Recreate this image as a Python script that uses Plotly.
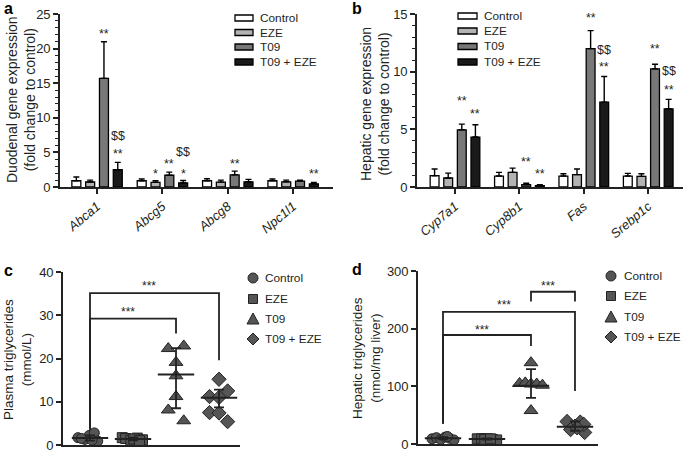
import plotly.graph_objects as go

W, H = 685, 452
FONT = "Liberation Sans, Arial, sans-serif"
TXT = "#231f20"

# ---------------- data ----------------
groups = ["Control", "EZE", "T09", "T09 + EZE"]

genes_a = ["Abca1", "Abcg5", "Abcg8", "Npc1l1"]
a_control = [0.9, 0.9, 0.9, 0.9]
a_eze = [0.72, 0.67, 0.70, 0.75]
a_t09 = [15.7, 1.7, 1.75, 0.85]
a_t09eze = [2.5, 0.6, 0.75, 0.45]
a_control_err = [0.55, 0.25, 0.30, 0.25]
a_eze_err = [0.28, 0.23, 0.30, 0.25]
a_t09_err = [5.3, 0.45, 0.55, 0.15]
a_t09eze_err = [1.06, 0.35, 0.35, 0.20]

genes_b = ["Cyp7a1", "Cyp8b1", "Fas", "Srebp1c"]
b_control = [0.98, 0.95, 0.95, 0.95]
b_eze = [0.78, 1.27, 1.07, 0.92]
b_t09 = [4.96, 0.20, 12.0, 10.24]
b_t09eze = [4.33, 0.12, 7.36, 6.78]
b_control_err = [0.58, 0.32, 0.20, 0.23]
b_eze_err = [0.42, 0.37, 0.49, 0.23]
b_t09_err = [0.49, 0.12, 1.56, 0.40]
b_t09eze_err = [1.07, 0.08, 2.22, 0.82]

# significance marks: (gene index, group index, text, level)
a_sig = [(0, 2, "**", 22.5), (0, 3, "$$", 7.3), (0, 3, "**", 5.2),
         (1, 1, "*", 2.35), (1, 2, "**", 3.7), (1, 3, "$$", 5.0), (1, 3, "*", 2.35),
         (2, 2, "**", 3.7), (3, 3, "**", 2.35)]
b_sig = [(0, 2, "**", 7.7), (0, 3, "**", 6.55), (1, 2, "**", 2.4), (1, 3, "**", 1.4),
         (2, 2, "**", 14.9), (2, 3, "$$", 11.9), (2, 3, "**", 10.7),
         (3, 2, "**", 12.2), (3, 3, "$$", 10.07), (3, 3, "**", 8.65)]

# panel c: plasma TG (mmol/L)
c_control = [1.7, 1.3, 2.2, 2.8, 0.9, 1.5, 1.1]
c_eze = [1.7, 1.5, 1.1, 1.6, 1.2, 1.4, 1.0]
c_t09 = [22.3, 22.9, 19.1, 16.0, 11.2, 8.1, 5.6]
c_t09eze = [15.2, 12.5, 11.2, 11.0, 7.5, 7.4, 5.4]
c_center = [1.6, 1.4, 16.3, 10.9]
c_up = [0.6, 0.3, 6.1, 1.9]
c_down = [0.6, 0.3, 7.8, 2.2]

# panel d: hepatic TG (nmol/mg liver)
d_control = [9, 11, 8, 12, 10, 7, 13]
d_eze = [9, 9, 9, 8, 7, 8, 9]
d_t09 = [141, 105, 106, 104, 104, 102, 58]
d_t09eze = [39, 38, 31, 25, 20, 34, 28]
d_center = [10, 8.5, 101, 30]
d_up = [2, 1, 29, 9]
d_down = [2, 1, 21, 7]

# comparisons: (group i, group j, bracket level, leg end i, leg end j, label level)
c_brackets = [(0, 2, 29.2, 3.5, 25.8, 31.5), (0, 3, 35.1, 3.5, 19.6, 37.4)]
d_brackets = [(0, 2, 189, 35, 170, 203), (0, 3, 229, 35, 92, 246), (2, 3, 264, 247, 247, 279)]

y_titles = ["Duodenal gene expression<br>(fold change to control)",
            "Hepatic gene expression<br>(fold change to control)",
            "Plasma triglycerides<br>(mmol/L)",
            "Hepatic triglycerides<br>(nmol/mg liver)"]

# ---------------- styles / layout helpers ----------------
bar_colors = ["#ffffff", "#b3b3b3", "#787878", "#1a1a1a"]
pt_symbols = ["circle", "square", "triangle-up", "diamond"]
pt_sizes = [10, 10, 12, 11]
# horizontal jitter of points (layout only)
c_dx = [[-0.28, -0.12, -0.02, 0.10, 0.18, -0.20, 0.05],
        [-0.25, -0.17, -0.05, 0.10, 0.22, 0.02, 0.15],
        [-0.18, 0.18, 0, 0, 0, -0.18, 0.18],
        [0, 0.2, -0.22, 0, -0.22, 0, 0.2]]
d_dx = [[-0.25, -0.15, -0.05, 0.05, 0.15, 0.25, 0.10],
        [-0.22, -0.12, 0, 0.12, 0.22, -0.05, 0.08],
        [0, -0.26, -0.13, 0, 0.13, 0.26, 0],
        [-0.18, 0.12, 0.0, -0.1, 0.22, 0.2, 0.05]]

# panel frames in pixels: (x0, x1), category range
A_X, A_R = (60, 333), (-0.567, 3.61)
B_X, B_R = (417, 683), (-0.59, 3.54)


def px(x):
    return x / W


def py(y):
    return 1 - y / H


fig = go.Figure()

# bars
panels_bar = [
    ("x", "y", genes_a, [a_control, a_eze, a_t09, a_t09eze],
     [a_control_err, a_eze_err, a_t09_err, a_t09eze_err]),
    ("x2", "y2", genes_b, [b_control, b_eze, b_t09, b_t09eze],
     [b_control_err, b_eze_err, b_t09_err, b_t09eze_err]),
]
for xa, ya, genes, vals, errs in panels_bar:
    for g, name in enumerate(groups):
        fig.add_trace(go.Bar(
            x=genes, y=vals[g], name=name, xaxis=xa, yaxis=ya,
            marker=dict(color=bar_colors[g], line=dict(color="black", width=1.3)),
            error_y=dict(type="data", symmetric=False, array=errs[g],
                         arrayminus=[0] * len(genes), color="black",
                         thickness=1.4, width=3),
            showlegend=False))

# scatter panels
panels_sc = [
    ("x3", "y3", [c_control, c_eze, c_t09, c_t09eze], c_dx, c_center, c_up, c_down),
    ("x4", "y4", [d_control, d_eze, d_t09, d_t09eze], d_dx, d_center, d_up, d_down),
]
for xa, ya, pts, dxs, cen, up, dn in panels_sc:
    for g, name in enumerate(groups):
        fig.add_trace(go.Scatter(
            x=[g + d for d in dxs[g]], y=pts[g], mode="markers", name=name,
            xaxis=xa, yaxis=ya, cliponaxis=False,
            marker=dict(symbol=pt_symbols[g], size=pt_sizes[g], color="#555555",
                        line=dict(color="#222222", width=1)),
            showlegend=False))
    fig.add_trace(go.Scatter(
        x=list(range(4)), y=cen, mode="markers", xaxis=xa, yaxis=ya,
        marker=dict(symbol="line-ew", size=26, line=dict(color="#222222", width=2)),
        error_y=dict(type="data", symmetric=False, array=up, arrayminus=dn,
                     color="#222222", thickness=1.8, width=5),
        showlegend=False))

# brackets
shapes = []
annots = []
for xa, ya, brs in [("x3", "y3", c_brackets), ("x4", "y4", d_brackets)]:
    for i, j, top, bi, bj, lab in brs:
        shapes.append(dict(type="path", xref=xa, yref=ya,
                           path=f"M {i},{bi} L {i},{top} L {j},{top} L {j},{bj}",
                           line=dict(color="#222222", width=1.8)))
        annots.append(dict(x=(i + j) / 2 - 0.12, y=lab, xref=xa, yref=ya, text="***",
                           showarrow=False, font=dict(size=12, color=TXT),
                           yanchor="middle", yshift=-3))

# significance annotations on bars
for xa, ya, genes, sig, xdom, xr in [
        ("x", "y", genes_a, a_sig, A_X, A_R),
        ("x2", "y2", genes_b, b_sig, B_X, B_R)]:
    ppu = (xdom[1] - xdom[0]) / (xr[1] - xr[0])
    slot = (1 - 0.155) / 4 * ppu
    for gi, grp, t, lev in sig:
        annots.append(dict(x=genes[gi], y=lev, xref=xa, yref=ya, text=t,
                           xshift=(grp - 1.5) * slot, showarrow=False,
                           font=dict(size=12.5, color=TXT), yanchor="middle",
                           yshift=-3 if "*" in t else 0))

# panel letters
for t, x, y in [("a", 2, 9), ("b", 350, 9), ("c", 2, 270), ("d", 350, 269)]:
    annots.append(dict(x=px(x), y=py(y), xref="paper", yref="paper", text=f"<b>{t}</b>",
                       showarrow=False, xanchor="left", yanchor="middle",
                       font=dict(size=16, color="black")))

# y-axis titles (rotated text)
for t, x, y, fs in zip(y_titles, [21, 375, 17, 366], [100, 104, 360, 358], [14, 14, 13.5, 13.5]):
    annots.append(dict(x=px(x), y=py(y), xref="paper", yref="paper", text=t,
                       textangle=-90, showarrow=False, xanchor="center", yanchor="middle",
                       font=dict(size=fs, color=TXT)))

# bar legends (manual, wide swatches)
for x0, x1, tx, rows in [(235, 253, 258, [18, 32.5, 47, 62]),
                         (458, 477, 482, [16, 31, 46.5, 62])]:
    for g, name in enumerate(groups):
        shapes.append(dict(type="rect", xref="paper", yref="paper",
                           x0=px(x0), x1=px(x1), y0=py(rows[g] + 3), y1=py(rows[g] - 3),
                           fillcolor=bar_colors[g], line=dict(color="black", width=1.3)))
        annots.append(dict(x=px(tx), y=py(rows[g]), xref="paper", yref="paper", text=name,
                           showarrow=False, xanchor="left", yanchor="middle",
                           font=dict(size=11.8, color=TXT)))

# scatter legends (manual)
for mx, tx, rows in [(253, 263, [278, 299, 319, 339]), (611, 622, [276, 296, 317, 337])]:
    for g, name in enumerate(groups):
        cy = rows[g]
        r = 5
        style = dict(xref="paper", yref="paper", fillcolor="#555555",
                     line=dict(color="#222222", width=1))
        if g == 0:
            shapes.append(dict(type="circle", x0=px(mx - r), x1=px(mx + r),
                               y0=py(cy + r), y1=py(cy - r), **style))
        elif g == 1:
            shapes.append(dict(type="rect", x0=px(mx - 4.5), x1=px(mx + 4.5),
                               y0=py(cy + 4.5), y1=py(cy - 4.5), **style))
        elif g == 2:
            shapes.append(dict(type="path",
                               path=f"M {px(mx - 6)},{py(cy + 5)} L {px(mx + 6)},{py(cy + 5)} "
                                    f"L {px(mx)},{py(cy - 6)} Z", **style))
        else:
            shapes.append(dict(type="path",
                               path=f"M {px(mx - 6)},{py(cy)} L {px(mx)},{py(cy - 6)} "
                                    f"L {px(mx + 6)},{py(cy)} L {px(mx)},{py(cy + 6)} Z", **style))
        annots.append(dict(x=px(tx), y=py(cy), xref="paper", yref="paper", text=name,
                           showarrow=False, xanchor="left", yanchor="middle",
                           font=dict(size=11.8, color=TXT)))

axis_common = dict(showline=True, linecolor="#222222", linewidth=1.6, showgrid=False,
                   zeroline=False, ticks="outside", tickcolor="#222222", tickwidth=1.5,
                   ticklen=5, tickfont=dict(size=13, color=TXT), automargin=False,
                   ticklabeloverflow="allow")

fig.update_layout(
    width=W, height=H, margin=dict(l=0, r=0, t=0, b=0, autoexpand=False),
    plot_bgcolor="white", paper_bgcolor="white",
    font=dict(family=FONT, color=TXT),
    barmode="group", bargap=0.155, bargroupgap=0.35, showlegend=False,
    shapes=shapes, annotations=annots,
    xaxis=dict(domain=[px(A_X[0]), px(A_X[1])], range=list(A_R), anchor="y", type="category",
               tickvals=genes_a, ticktext=[f"<i>{g}</i>" for g in genes_a], tickangle=-40,
               **axis_common),
    yaxis=dict(domain=[py(187), py(14)], range=[0, 25], anchor="x", dtick=5,
               minor=dict(dtick=1, ticks="outside", ticklen=3, tickcolor="#222222", tickwidth=1.2),
               **axis_common),
    xaxis2=dict(domain=[px(B_X[0]), px(B_X[1])], range=list(B_R), anchor="y2", type="category",
                tickvals=genes_b, ticktext=[f"<i>{g}</i>" for g in genes_b], tickangle=-40,
                **axis_common),
    yaxis2=dict(domain=[py(187), py(14)], range=[0, 15], anchor="x2", dtick=5,
                minor=dict(dtick=1, ticks="outside", ticklen=3, tickcolor="#222222", tickwidth=1.2),
                **axis_common),
    xaxis3=dict(domain=[px(63), px(240)], range=[-0.628, 3.488], anchor="y3",
                showticklabels=False, **{**axis_common, "ticks": ""}),
    yaxis3=dict(domain=[py(445), py(272)], range=[0, 40], anchor="x3", dtick=10,
                **axis_common),
    xaxis4=dict(domain=[px(418), px(598)], range=[-0.568, 3.523], anchor="y4",
                showticklabels=False, **{**axis_common, "ticks": ""}),
    yaxis4=dict(domain=[py(444), py(271)], range=[0, 300], anchor="x4", dtick=100,
                **axis_common),
)

fig.write_html("out.html", config={"displayModeBar": False},
               post_script="document.body.style.margin='0';document.body.style.overflow='hidden';")
